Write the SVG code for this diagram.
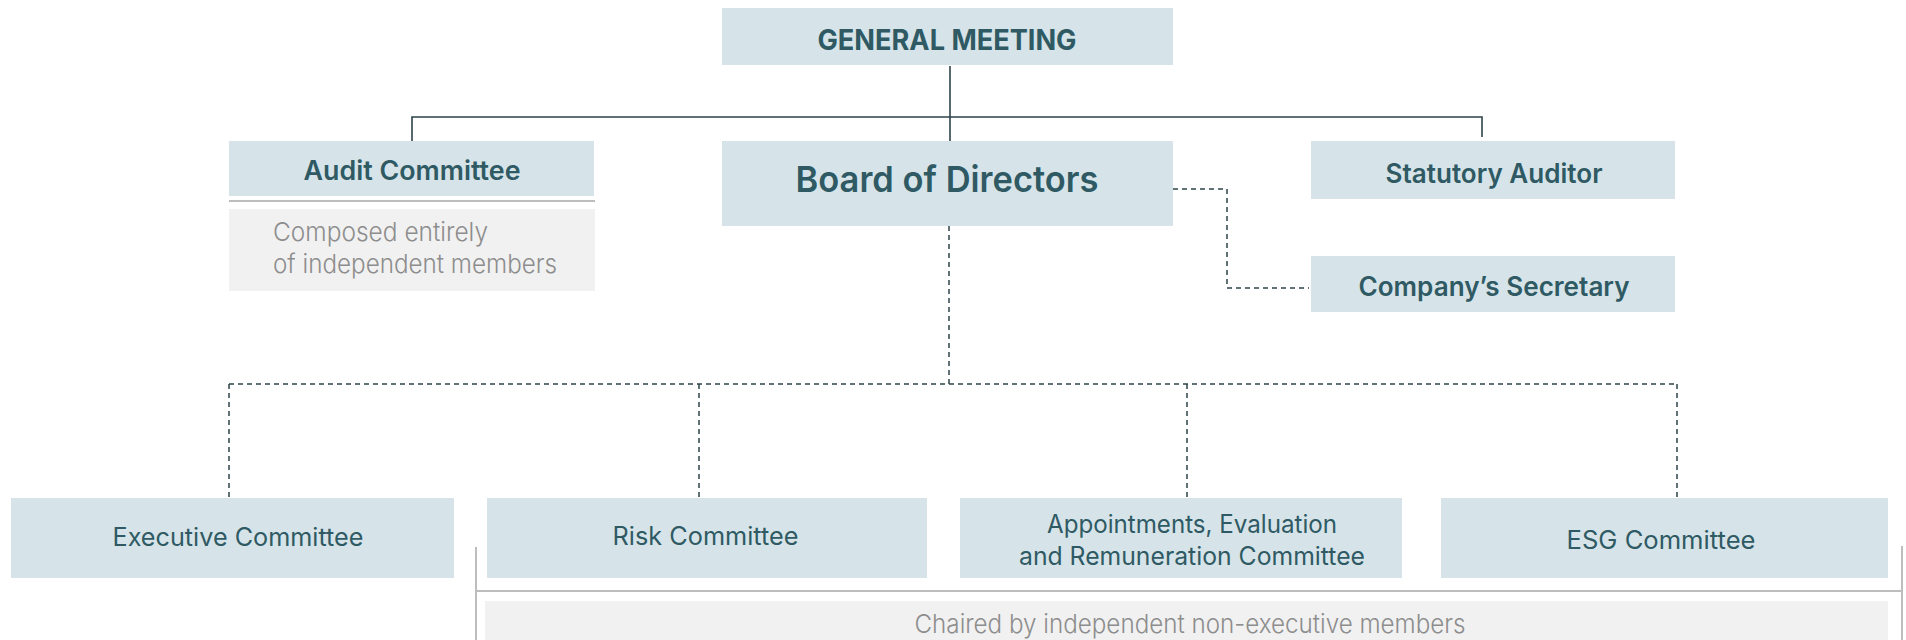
<svg xmlns="http://www.w3.org/2000/svg" width="1906" height="640" viewBox="0 0 1906 640">
<style>
.box{fill:#d6e4e9}
.note{fill:#f1f1f1}
.t{font-family:Inter,"Liberation Sans",sans-serif;fill:#2f5a64;text-anchor:middle}
.b{font-weight:700}
.sb{font-weight:600}
.r{font-weight:400}
.g{fill:#8d8d8d;font-weight:300;text-anchor:start}
.gc{fill:#8d8d8d;font-weight:300}
.solid{stroke:#2e444b;stroke-width:1.6;fill:none}
.dash{stroke:#2e444b;stroke-width:1.5;fill:none;stroke-dasharray:5 4}
.gl{stroke:#bdbdbd;stroke-width:2;fill:none}
</style>
<rect width="1906" height="640" fill="#ffffff"/>
<g id="connectors">
<path class="solid" d="M950 66 V141"/>
<path class="solid" d="M412 141 V117 H1482 V137"/>
<path class="dash" d="M949 226 V384"/>
<path class="dash" d="M229 384 H1677"/>
<path class="dash" d="M229 384 V497"/>
<path class="dash" d="M699 384 V497"/>
<path class="dash" d="M1187 384 V497"/>
<path class="dash" d="M1677 384 V497"/>
<path class="dash" d="M1173 189 H1227 V288 H1309"/>
</g>
<g id="general-meeting">
<rect class="box" x="722" y="8" width="451" height="57"/>
<text class="t b" x="947" y="50" font-size="28" textLength="259" lengthAdjust="spacingAndGlyphs">GENERAL MEETING</text>
</g>
<g id="board">
<rect class="box" x="722" y="141" width="451" height="85"/>
<text class="t sb" x="947" y="192" font-size="36" textLength="303" lengthAdjust="spacingAndGlyphs">Board of Directors</text>
</g>
<g id="audit-committee">
<rect class="box" x="229" y="141" width="365" height="55"/>
<text class="t sb" x="412" y="180" font-size="26.5" textLength="217" lengthAdjust="spacingAndGlyphs">Audit Committee</text>
<line x1="229" y1="201" x2="595" y2="201" class="gl" stroke-width="1.6"/>
<rect class="note" x="229" y="209" width="366" height="82"/>
<text class="t g" x="273" y="241" font-size="26" textLength="215" lengthAdjust="spacingAndGlyphs">Composed entirely</text>
<text class="t g" x="273" y="273" font-size="26" textLength="284" lengthAdjust="spacingAndGlyphs">of independent members</text>
</g>
<g id="statutory-auditor">
<rect class="box" x="1311" y="141" width="364" height="58"/>
<text class="t sb" x="1494" y="183" font-size="26.5" textLength="217" lengthAdjust="spacingAndGlyphs">Statutory Auditor</text>
</g>
<g id="company-secretary">
<rect class="box" x="1311" y="256" width="364" height="56"/>
<text class="t sb" x="1494" y="296" font-size="26.5" textLength="271" lengthAdjust="spacingAndGlyphs">Company’s Secretary</text>
</g>
<g id="executive-committee">
<rect class="box" x="11" y="498" width="443" height="80"/>
<text class="t r" x="238" y="546" font-size="25" textLength="251" lengthAdjust="spacingAndGlyphs">Executive Committee</text>
</g>
<g id="risk-committee">
<rect class="box" x="487" y="498" width="440" height="80"/>
<text class="t r" x="705.5" y="545" font-size="25" textLength="186" lengthAdjust="spacingAndGlyphs">Risk Committee</text>
</g>
<g id="appointments-committee">
<rect class="box" x="960" y="498" width="442" height="80"/>
<text class="t r" x="1192" y="533" font-size="25" textLength="290" lengthAdjust="spacingAndGlyphs">Appointments, Evaluation</text>
<text class="t r" x="1192" y="565" font-size="25" textLength="346" lengthAdjust="spacingAndGlyphs">and Remuneration Committee</text>
</g>
<g id="esg-committee">
<rect class="box" x="1441" y="498" width="447" height="80"/>
<text class="t r" x="1661" y="549" font-size="25" textLength="189" lengthAdjust="spacingAndGlyphs">ESG Committee</text>
</g>
<g id="chaired-note">
<path class="gl" d="M476 640 V547 M476 591 H1902 M1902 546 V640"/>
<rect class="note" x="485" y="601" width="1403" height="45"/>
<text class="t gc" x="1190" y="633" font-size="26" textLength="551" lengthAdjust="spacingAndGlyphs">Chaired by independent non-executive members</text>
</g>
</svg>
